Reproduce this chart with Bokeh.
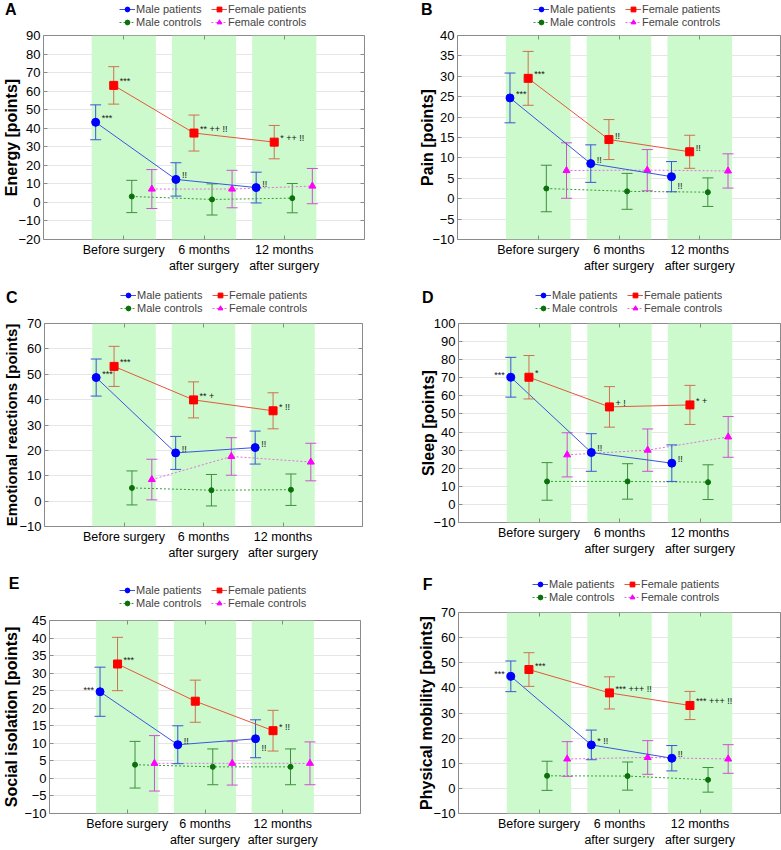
from bokeh.plotting import figure
from bokeh.layouts import row, column
from bokeh.models import (ColumnDataSource, Range1d, FixedTicker, SingleIntervalTicker,
                          LinearAxis, CustomJSTickFormatter, Legend, LegendItem)
from bokeh.embed import file_html
from bokeh.resources import INLINE

# ---------------- data ----------------
time_pos = [1, 2, 3]
time_labels = ["Before surgery", "6 months\nafter surgery", "12 months\nafter surgery"]
series_labels = ["Male patients", "Female patients", "Male controls", "Female controls"]

# A  Energy  (mean, CI half-width)
energy_male_patients = [43.2, 12.4, 8.0]
energy_male_patients_ci = [9.4, 9.0, 8.3]
energy_female_patients = [63.1, 37.4, 32.5]
energy_female_patients_ci = [10.1, 9.7, 9.0]
energy_male_controls = [3.2, 1.6, 2.3]
energy_male_controls_ci = [8.7, 8.4, 7.9]
energy_female_controls = [7.2, 7.2, 8.8]
energy_female_controls_ci = [10.5, 10.1, 9.5]

# B  Pain
pain_male_patients = [24.7, 8.6, 5.4]
pain_male_patients_ci = [6.1, 4.6, 3.7]
pain_female_patients = [29.5, 14.5, 11.5]
pain_female_patients_ci = [6.6, 4.9, 4.05]
pain_male_controls = [2.5, 1.8, 1.6]
pain_male_controls_ci = [5.7, 4.4, 3.5]
pain_female_controls = [6.9, 7.0, 6.8]
pain_female_controls_ci = [6.8, 5.05, 4.2]

# C  Emotional reactions
emo_male_patients = [48.7, 19.0, 21.1]
emo_male_patients_ci = [7.3, 6.5, 6.5]
emo_female_patients = [53.1, 39.9, 35.6]
emo_female_patients_ci = [7.9, 7.1, 7.1]
emo_male_controls = [5.2, 4.3, 4.5]
emo_male_controls_ci = [6.7, 6.2, 6.2]
emo_female_controls = [8.5, 17.6, 15.4]
emo_female_controls_ci = [8.0, 7.4, 7.4]

# D  Sleep
sleep_male_patients = [70.3, 28.7, 22.8]
sleep_male_patients_ci = [11.0, 10.4, 10.1]
sleep_female_patients = [70.3, 53.9, 55.0]
sleep_female_patients_ci = [12.0, 11.2, 10.8]
sleep_male_controls = [12.7, 12.7, 12.3]
sleep_male_controls_ci = [10.4, 9.8, 9.6]
sleep_female_controls = [27.4, 30.0, 37.3]
sleep_female_controls_ci = [12.2, 11.7, 11.25]

# E  Social isolation
social_male_patients = [24.7, 9.6, 11.3]
social_male_patients_ci = [7.0, 5.4, 5.4]
social_female_patients = [32.6, 22.0, 13.6]
social_female_patients_ci = [7.6, 6.0, 5.8]
social_male_controls = [3.9, 3.3, 3.3]
social_male_controls_ci = [6.65, 5.1, 5.1]
social_female_controls = [4.3, 4.3, 4.3]
social_female_controls_ci = [7.9, 6.2, 6.1]

# F  Physical mobility
mob_male_patients = [44.6, 17.3, 12.0]
mob_male_patients_ci = [6.1, 5.9, 5.05]
mob_female_patients = [47.3, 38.0, 33.0]
mob_female_patients_ci = [6.7, 6.4, 5.6]
mob_male_controls = [5.0, 4.9, 3.4]
mob_male_controls_ci = [5.8, 5.6, 4.9]
mob_female_controls = [11.7, 12.3, 11.7]
mob_female_controls_ci = [6.9, 6.7, 5.7]

# significance notes: (series, time index, text, placement)
energy_notes = [("mp", 0, "***", "ur"), ("fp", 0, "***", "ur"), ("mp", 1, "!!", "ur"),
                ("fp", 1, "** ++ !!", "ur"), ("mp", 2, "!!", "ur"), ("fp", 2, "* ++ !!", "ur")]
pain_notes = [("mp", 0, "***", "ur"), ("fp", 0, "***", "ur"), ("mp", 1, "!!", "ur"),
              ("fp", 1, "!!", "ur"), ("fp", 2, "!!", "ur"), ("mp", 2, "!!", "dr")]
emo_notes = [("mp", 0, "***", "ur"), ("fp", 0, "***", "ur"), ("mp", 1, "!!", "ur"),
             ("fp", 1, "** +", "ur"), ("mp", 2, "!!", "ur"), ("fp", 2, "* !!", "ur")]
sleep_notes = [("mp", 0, "***", "ul"), ("fp", 0, "*", "ur"), ("mp", 1, "!!", "ur"),
               ("fp", 1, "+ !", "ur"), ("mp", 2, "!!", "ur"), ("fp", 2, "* +", "ur")]
social_notes = [("mp", 0, "***", "ul"), ("fp", 0, "***", "ur"), ("mp", 1, "!!", "ur"),
                ("mp", 2, "!!", "dr"), ("fp", 2, "* !!", "ur")]
mob_notes = [("mp", 0, "***", "ul"), ("fp", 0, "***", "ur"), ("mp", 1, "* !!", "ur"),
             ("fp", 1, "*** +++ !!", "ur"), ("mp", 2, "!!", "ur"), ("fp", 2, "*** +++ !!", "ur")]

# ---------------- styles ----------------
FONT = "Liberation Sans"
KEYS = ["mp", "fp", "mc", "fc"]
OFFSETS = {"mp": -0.35, "fp": -0.125, "mc": 0.1, "fc": 0.35}
STYLE = {
    "mp": dict(marker="circle", size=8, fill="#0000ff", line="#3b55e0", err="#3b55d8", dash="solid"),
    "fp": dict(marker="square", size=8, fill="#ff0000", line="#e2583c", err="#cf7050", dash="solid"),
    "mc": dict(marker="circle", size=5, fill="#0a700a", line="#3a9a3a", err="#3f8f3f", dash="2 2"),
    "fc": dict(marker="triangle", size=7, fill="#ff00ff", line="#e070e0", err="#d050d0", dash="2 2"),
}
BAND = "#ccfacc"
FRAME = "#8a8a8a"
NAN = float("nan")


def make_header(letter, W, hh, leg_x, leg_y, let_y, let_standoff):
    # strip above each panel: panel letter (as a left-axis label) + legend
    h = figure(width=W, height=hh, x_range=Range1d(0, 1), y_range=Range1d(0, hh),
               output_backend="svg", toolbar_location=None, tools="", min_border=0,
               x_axis_location=None)
    h.outline_line_color = None
    h.background_fill_color = "white"
    h.border_fill_color = "white"
    h.grid.visible = False
    ax = h.yaxis[0]
    ax.ticker = FixedTicker(ticks=[let_y])
    ax.major_label_overrides = {let_y: letter}
    ax.major_label_text_font = FONT
    ax.major_label_text_font_style = "bold"
    ax.major_label_text_font_size = "16px"
    ax.major_label_text_color = "black"
    ax.major_label_standoff = let_standoff
    ax.major_tick_in = 0
    ax.major_tick_out = 0
    ax.major_tick_line_color = None
    ax.minor_tick_line_color = None
    ax.axis_line_color = None

    items = []
    for key, lab in zip(KEYS, series_labels):
        st = STYLE[key]
        ln = h.line(x=[NAN], y=[NAN], line_color=st["line"], line_width=1, line_dash=st["dash"])
        er = h.scatter(x=[NAN], y=[NAN], marker="dash", angle=1.5708, line_color=st["err"])
        mk = h.scatter(x=[NAN], y=[NAN], marker=st["marker"], fill_color=st["fill"],
                       line_color=st["fill"])
        items.append(LegendItem(label=lab, renderers=[ln, er, mk]))
    leg = Legend(items=items, location=(leg_x, leg_y), orientation="horizontal", ncols=2,
                 label_text_font=FONT, label_text_font_size="11px",
                 glyph_width=16, glyph_height=12, label_height=12, label_standoff=1,
                 label_width=74, spacing=1, padding=0, margin=0, border_line_color=None,
                 background_fill_alpha=0)
    h.add_layout(leg)
    return h


def make_panel(ylabel, y0, y1, step, series, notes, W, H, bl, br, bt, bb,
               lab_size, lab_standoff):
    p = figure(width=W, height=H, x_range=Range1d(0, 4), y_range=Range1d(y0, y1),
               output_backend="svg", toolbar_location=None, tools="",
               min_border_left=bl, min_border_right=br, min_border_top=bt, min_border_bottom=bb)
    p.outline_line_color = FRAME
    p.background_fill_color = "white"
    p.border_fill_color = "white"
    p.xgrid.visible = False
    p.ygrid.grid_line_color = "#e6e6e6"
    p.ygrid.level = "image"
    p.ygrid.ticker = SingleIntervalTicker(interval=step, num_minor_ticks=0)

    p.vbar(x=time_pos, width=0.8, bottom=y0, top=y1, fill_color=BAND, line_color=None,
           level="underlay")

    xa = p.xaxis[0]
    xa.ticker = FixedTicker(ticks=time_pos)
    xa.major_label_overrides = {t: lab for t, lab in zip(time_pos, time_labels)}
    xa.major_label_text_font = FONT
    xa.major_label_text_font_size = "12.5px"
    xa.major_label_text_color = "black"
    xa.major_label_standoff = 3
    xa.major_tick_in = 4
    xa.major_tick_out = 0
    xa.major_tick_line_color = FRAME
    xa.minor_tick_line_color = None
    xa.axis_line_color = None

    ya = p.yaxis[0]
    ya.ticker = SingleIntervalTicker(interval=step, num_minor_ticks=0)
    ya.formatter = CustomJSTickFormatter(
        code="return tick < 0 ? '\u2212' + Math.abs(tick) : String(tick);")
    ya.major_label_text_font = FONT
    ya.major_label_text_font_size = "13px"
    ya.major_label_text_color = "black"
    ya.major_label_standoff = 3
    ya.major_tick_in = 4
    ya.major_tick_out = 0
    ya.major_tick_line_color = FRAME
    ya.minor_tick_line_color = None
    ya.axis_line_color = None
    ya.axis_label = ylabel
    ya.axis_label_text_font = FONT
    ya.axis_label_text_font_style = "bold"
    ya.axis_label_text_font_size = lab_size
    ya.axis_label_text_color = "black"
    ya.axis_label_standoff = lab_standoff

    ra = LinearAxis(ticker=SingleIntervalTicker(interval=step, num_minor_ticks=0),
                    formatter=CustomJSTickFormatter(code="return '';"),
                    major_label_text_font_size="0px", major_label_standoff=0,
                    axis_line_color=None, major_tick_in=4, major_tick_out=0,
                    major_tick_line_color=FRAME, minor_tick_line_color=None)
    p.add_layout(ra, "right")
    ta = LinearAxis(ticker=FixedTicker(ticks=time_pos),
                    formatter=CustomJSTickFormatter(code="return '';"),
                    major_label_text_font_size="0px", major_label_standoff=0,
                    axis_line_color=None, major_tick_in=4, major_tick_out=0,
                    major_tick_line_color=FRAME, minor_tick_line_color=None)
    p.add_layout(ta, "above")

    pts = {}
    for key in ["mc", "fc", "mp", "fp"]:
        m, ci = series[key]
        xs = [t + OFFSETS[key] for t in time_pos]
        lo = [a - b for a, b in zip(m, ci)]
        hi = [a + b for a, b in zip(m, ci)]
        pts[key] = (xs, m)
        src = ColumnDataSource(dict(x=xs, y=m, lo=lo, hi=hi))
        st = STYLE[key]
        p.segment(x0="x", y0="lo", x1="x", y1="hi", source=src, line_color=st["err"], line_width=1)
        p.scatter(x="x", y="lo", marker="dash", size=11, line_color=st["err"], source=src)
        p.scatter(x="x", y="hi", marker="dash", size=11, line_color=st["err"], source=src)
        p.line("x", "y", source=src, line_color=st["line"], line_width=1, line_dash=st["dash"])
        p.scatter("x", "y", source=src, marker=st["marker"], size=st["size"],
                  fill_color=st["fill"], line_color=st["fill"])

    place = {"ur": dict(text_align="left", text_baseline="alphabetic", x_offset=6, y_offset=-4),
             "dr": dict(text_align="left", text_baseline="top", x_offset=6, y_offset=4),
             "ul": dict(text_align="right", text_baseline="alphabetic", x_offset=-6, y_offset=-2)}
    for where, kw in place.items():
        sel = [n for n in notes if n[3] == where]
        if not sel:
            continue
        src = ColumnDataSource(dict(
            x=[pts[k][0][i] for k, i, _, _ in sel],
            y=[pts[k][1][i] for k, i, _, _ in sel],
            t=[txt for _, _, txt, _ in sel]))
        p.text(x="x", y="y", text="t", source=src, text_font_size="9px",
               text_color="#151515", **kw)
    return p


def pack(mp, mpc, fp, fpc, mc, mcc, fc, fcc):
    return {"mp": (mp, mpc), "fp": (fp, fpc), "mc": (mc, mcc), "fc": (fc, fcc)}


# row 1 (height 283)
hA = make_header("A", 390, 28, 76, 0, 19.5, 27)
pA = make_panel("Energy [points]", -20, 90, 10,
                pack(energy_male_patients, energy_male_patients_ci, energy_female_patients,
                     energy_female_patients_ci, energy_male_controls, energy_male_controls_ci,
                     energy_female_controls, energy_female_controls_ci), energy_notes,
                390, 255, 40, 26, 7, 44, "16px", -5)
hB = make_header("B", 391, 28, 76, 0, 19.5, 25)
pB = make_panel("Pain [points]", -10, 40, 5,
                pack(pain_male_patients, pain_male_patients_ci, pain_female_patients,
                     pain_female_patients_ci, pain_male_controls, pain_male_controls_ci,
                     pain_female_controls, pain_female_controls_ci), pain_notes,
                391, 255, 67, 1, 7, 44, "16px", -7)
# row 2 (height 285)
hC = make_header("C", 390, 33, 76, 2, 19.5, 27)
pC = make_panel("Emotional reactions [points]", -10, 70, 10,
                pack(emo_male_patients, emo_male_patients_ci, emo_female_patients,
                     emo_female_patients_ci, emo_male_controls, emo_male_controls_ci,
                     emo_female_controls, emo_female_controls_ci), emo_notes,
                390, 252, 40, 28, 7, 42, "15px", -4)
hD = make_header("D", 391, 33, 77, 2, 19.5, 25)
pD = make_panel("Sleep [points]", -10, 100, 10,
                pack(sleep_male_patients, sleep_male_patients_ci, sleep_female_patients,
                     sleep_female_patients_ci, sleep_male_controls, sleep_male_controls_ci,
                     sleep_female_controls, sleep_female_controls_ci), sleep_notes,
                391, 252, 68, 1, 7, 46, "16px", -7)
# row 3 (height 282)
hE = make_header("E", 390, 44, 70, 3, 29, 30)
pE = make_panel("Social isolation [points]", -10, 45, 5,
                pack(social_male_patients, social_male_patients_ci, social_female_patients,
                     social_female_patients_ci, social_male_controls, social_male_controls_ci,
                     social_female_controls, social_female_controls_ci), social_notes,
                390, 238, 47, 30, 8, 34, "16px", 1)
hF = make_header("F", 391, 38, 74, 3, 22, 26)
pF = make_panel("Physical mobility [points]", -10, 70, 10,
                pack(mob_male_patients, mob_male_patients_ci, mob_female_patients,
                     mob_female_patients_ci, mob_male_controls, mob_male_controls_ci,
                     mob_female_controls, mob_female_controls_ci), mob_notes,
                391, 244, 68, 1, 6, 36, "16px", -5)

layout = column(row(column(hA, pA), column(hB, pB)),
                row(column(hC, pC), column(hD, pD)),
                row(column(hE, pE), column(hF, pF)))
open("out.html", "w").write(file_html(layout, INLINE))
